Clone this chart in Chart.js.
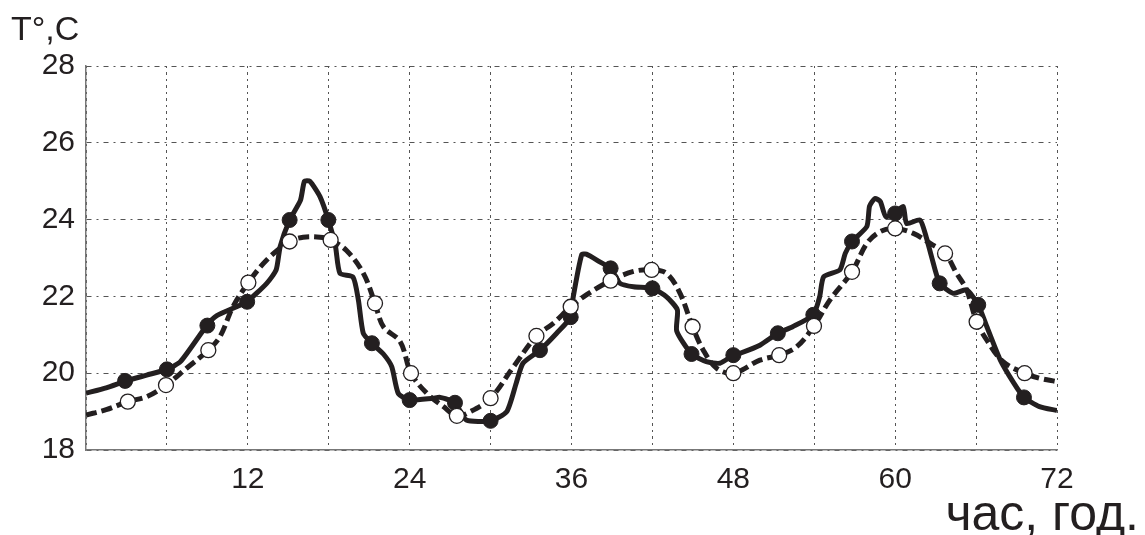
<!DOCTYPE html>
<html>
<head>
<meta charset="utf-8">
<script src="https://cdn.jsdelivr.net/npm/chart.js@4.4.1/dist/chart.umd.min.js"></script>
<style>
  html, body { margin: 0; padding: 0; background: #fff; }
  #wrap { width: 1145px; height: 535px; }
</style>
</head>
<body>
<div id="wrap"><canvas id="tempChart"></canvas></div>
<script>
// ===== Data (hours, °C) =====
const measHours = [0, 1.5, 3.0, 4.5, 6.0, 7.0, 8.95, 9.7, 11.9, 13.4, 14.1, 14.4, 15.1, 15.9, 16.2, 16.6, 17.35, 17.97, 18.5, 18.83, 19.8, 20.2, 20.56, 21.2, 22.05, 22.67, 23.16, 24.0, 25.75, 26.25, 27.36, 28.2, 30.0, 31.2, 31.9, 32.4, 33.66, 34.9, 35.94, 36.13, 36.75, 37.1, 38.1, 38.9, 39.6, 40.6, 42.0, 43.05, 43.85, 43.8, 44.9, 46.0, 47.0, 48.0, 48.5, 49.97, 51.3, 52.4, 53.93, 54.4, 54.7, 55.9, 56.3, 56.8, 57.9, 58.1, 58.5, 58.9, 59.3, 60.0, 60.6, 60.85, 61.84, 62.3, 62.7, 63.3, 64.3, 65.3, 66.16, 66.8, 67.8, 68.8, 69.55, 70.7, 72.0];
const measTemps = [19.48, 19.62, 19.8, 19.95, 20.1, 20.3, 21.24, 21.5, 21.86, 22.34, 22.69, 23.3, 23.99, 24.5, 25.0, 25.0, 24.6, 23.99, 23.3, 22.6, 22.5, 21.9, 21.04, 20.78, 20.5, 20.17, 19.47, 19.3, 19.35, 19.37, 19.23, 18.78, 18.76, 19.0, 19.74, 20.26, 20.6, 21.04, 21.46, 21.99, 23.08, 23.1, 22.9, 22.73, 22.34, 22.25, 22.21, 21.99, 21.65, 21.1, 20.5, 20.3, 20.26, 20.47, 20.52, 20.73, 21.04, 21.21, 21.52, 21.99, 22.51, 22.69, 23.12, 23.43, 23.82, 24.35, 24.55, 24.47, 24.08, 24.16, 24.34, 23.9, 23.99, 23.55, 23.03, 22.34, 22.08, 22.17, 21.78, 21.21, 20.34, 19.74, 19.37, 19.13, 19.03];

const modelHours = [0, 1.5, 3.1, 4.5, 5.93, 7.46, 9.07, 9.93, 10.9, 12.04, 13.4, 15.1, 16.1, 17.35, 18.14, 19.3, 20.57, 21.43, 22.05, 23.3, 24.1, 25.26, 26.5, 27.5, 28.5, 30.0, 31.7, 33.4, 34.65, 35.94, 37.1, 38.9, 40.6, 41.94, 43.05, 44.05, 44.98, 45.77, 46.76, 48.0, 49.97, 51.4, 52.7, 53.98, 55.17, 56.8, 57.9, 58.9, 60.0, 61.35, 62.6, 63.7, 64.56, 65.3, 66.04, 66.8, 68.0, 69.6, 70.7, 72.0];
const modelTemps = [18.91, 19.05, 19.26, 19.39, 19.69, 20.13, 20.6, 20.95, 21.73, 22.36, 22.95, 23.43, 23.54, 23.54, 23.47, 23.2, 22.6, 21.82, 21.21, 20.82, 20.0, 19.48, 19.13, 18.89, 19.0, 19.35, 20.17, 20.97, 21.3, 21.73, 22.04, 22.41, 22.65, 22.69, 22.6, 22.08, 21.21, 20.6, 20.13, 20.0, 20.34, 20.47, 20.69, 21.23, 21.91, 22.64, 23.38, 23.69, 23.77, 23.64, 23.38, 23.12, 22.6, 22.17, 21.34, 20.86, 20.3, 20.0, 19.87, 19.78];

// marker points
const measMarkHours = [2.9, 6.0, 9.0, 11.95, 15.1, 17.97, 21.2, 24.0, 27.36, 30.0, 33.66, 35.94, 38.9, 42.0, 44.9, 48.0, 51.3, 53.93, 56.8, 60.0, 63.3, 66.16, 69.55];
const measMarkTemps = [19.8, 20.1, 21.24, 21.86, 23.99, 23.99, 20.78, 19.3, 19.23, 18.76, 20.6, 21.46, 22.73, 22.21, 20.5, 20.47, 21.04, 21.52, 23.43, 24.16, 22.34, 21.78, 19.37];
const modelMarkHours = [3.1, 5.93, 9.07, 12.04, 15.1, 18.14, 21.43, 24.1, 27.5, 30.0, 33.4, 35.94, 38.9, 41.94, 44.98, 48.0, 51.4, 53.98, 56.8, 60.0, 63.7, 66.04, 69.6];
const modelMarkTemps = [19.26, 19.69, 20.6, 22.36, 23.43, 23.47, 21.82, 20.0, 18.89, 19.35, 20.97, 21.73, 22.41, 22.69, 21.21, 20.0, 20.47, 21.23, 22.64, 23.77, 23.12, 21.34, 20.0];

// tick labels
const xTickLabels = [12, 24, 36, 48, 60, 72];
const yTickLabels = [18, 20, 22, 24, 26, 28];

const yTitle = "T°,C";
const xTitle = "час, год.";

const INK = "#231f20";
const FONT = "'Liberation Sans', Arial, sans-serif";

const toXY = (xs, ys) => xs.map((x, i) => ({ x: x, y: ys[i] }));

// ===== Axis titles =====
const titlesPlugin = {
  id: "titles",
  afterDraw(chart) {
    const ctx = chart.ctx;
    ctx.save();
    ctx.fillStyle = INK;
    ctx.textBaseline = "alphabetic";
    ctx.font = "34px " + FONT;
    ctx.textAlign = "left";
    ctx.fillText(yTitle, 11, 40);
    ctx.font = "50px " + FONT;
    ctx.textAlign = "right";
    ctx.fillText(xTitle, 1139, 530);
    ctx.restore();
  },
};

const ctx = document.getElementById("tempChart").getContext("2d");
const tempChart = new Chart(ctx, {
  type: "scatter",
  data: {
    datasets: [
      {
        label: "model markers",
        data: toXY(modelMarkHours, modelMarkTemps),
        pointRadius: 7.5,
        pointBackgroundColor: "#ffffff",
        pointBorderColor: INK,
        pointBorderWidth: 1.3,
        showLine: false,
        order: 0,
      },
      {
        label: "measured markers",
        data: toXY(measMarkHours, measMarkTemps),
        pointRadius: 7.5,
        pointBackgroundColor: INK,
        pointBorderColor: INK,
        pointBorderWidth: 1,
        showLine: false,
        order: 1,
      },
      {
        label: "model",
        data: toXY(modelHours, modelTemps),
        showLine: true,
        borderColor: INK,
        borderWidth: 5,
        borderDash: [11, 5],
        pointRadius: 0,
        tension: 0.35,
        order: 2,
      },
      {
        label: "measured",
        data: toXY(measHours, measTemps),
        showLine: true,
        borderColor: INK,
        borderWidth: 5,
        pointRadius: 0,
        tension: 0.2,
        order: 3,
      },
    ],
  },
  options: {
    responsive: true,
    maintainAspectRatio: false,
    animation: false,
    events: [],
    layout: { padding: { top: 66, right: 88, left: 0, bottom: 0 } },
    plugins: {
      legend: { display: false },
      tooltip: { enabled: false },
    },
    scales: {
      x: {
        type: "linear",
        min: 0,
        max: 72,
        afterFit: (scale) => { scale.height = 85; },
        afterBuildTicks: (scale) => {
          const t = [];
          for (let v = 0; v <= 72; v += 6) t.push({ value: v });
          scale.ticks = t;
        },
        ticks: {
          autoSkip: false,
          maxRotation: 0,
          padding: 12,
          color: INK,
          font: { family: FONT, size: 30 },
          callback: (v) => (xTickLabels.includes(v) ? String(v) : ""),
        },
        grid: { color: "#555", lineWidth: 1, drawTicks: false },
        border: { display: true, color: "#777", width: 1.5, dash: [2, 4, 3, 4] },
      },
      y: {
        min: 18,
        max: 28,
        afterFit: (scale) => { scale.width = 86; },
        ticks: {
          stepSize: 1,
          padding: 11,
          color: INK,
          font: { family: FONT, size: 30 },
          callback: (v) => (yTickLabels.includes(v) ? String(v) : ""),
        },
        grid: { color: "#555", lineWidth: 1, drawTicks: false },
        border: { display: true, color: "#777", width: 1.5, dash: [5, 5, 2, 5] },
      },
    },
  },
  plugins: [titlesPlugin],
});
</script>
</body>
</html>
